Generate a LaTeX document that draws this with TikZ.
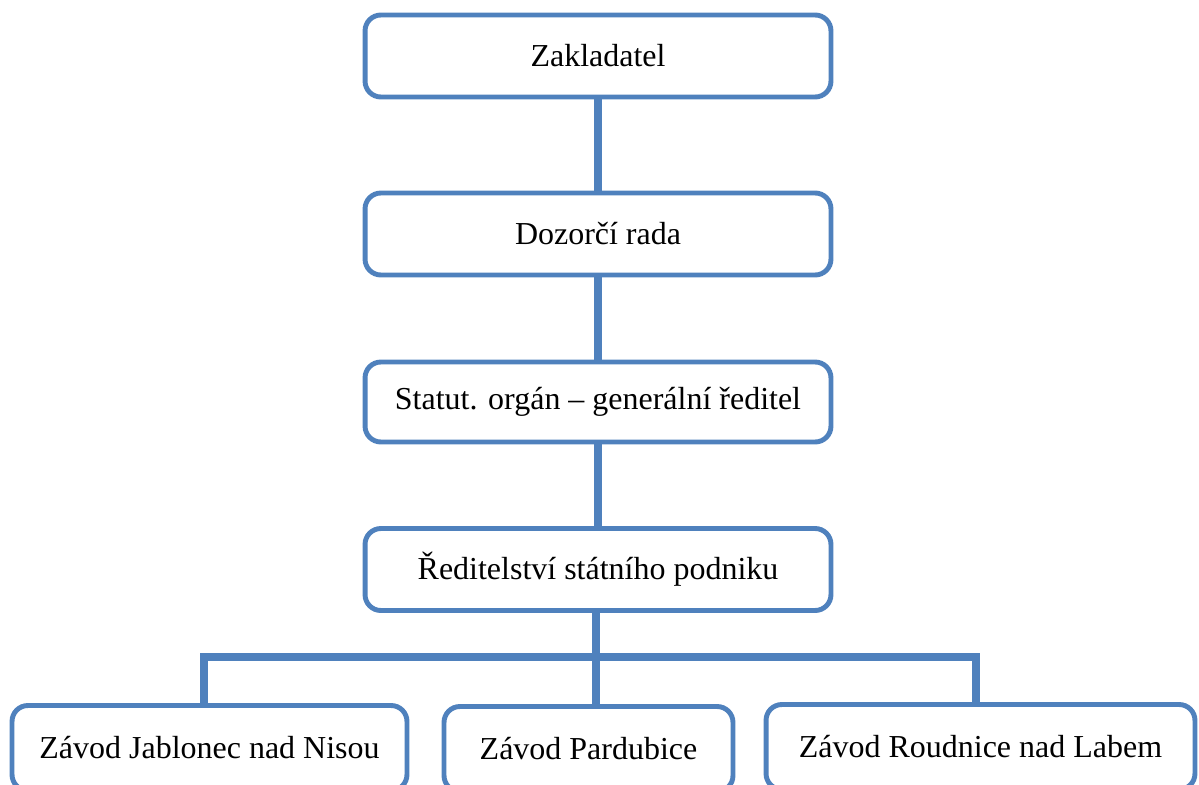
\documentclass[tikz,border=0pt]{standalone}
\usepackage{fontspec}
\setmainfont{Liberation Serif}
\usepackage{xcolor}
\usetikzlibrary{positioning}
\definecolor{orgblue}{RGB}{79,129,189}

\begin{document}
\begin{tikzpicture}[
  x=0.02cm, y=-0.02cm,
  unit/.style={draw=orgblue, line width=2.8pt, rounded corners=9pt, fill=white,
               minimum height=1.64cm, align=center,
               font=\fontsize{18.2}{22}\selectfont},
  mainunit/.style={unit, minimum width=9.32cm},
  conn/.style={orgblue, line width=4.6pt}
]
\useasboundingbox (0,0) rectangle (1199,784);
\clip (0,0) rectangle (1199,784);

% main chain
\node[mainunit] (zak) at (598,56)    {Zakladatel};
\node[mainunit] (doz) at (598,234)   {Dozorčí rada};
\node[mainunit, minimum height=1.6cm] (stat) at (598,402) {Statut. orgán -- generální ředitel};
\node[mainunit] (red) at (598,569.5) {Ředitelství státního podniku};

% plants
\node[unit, minimum width=7.9cm, minimum height=1.7cm]  (jab) at (209.5,748) {Závod Jablonec nad Nisou};
\node[unit, minimum width=5.78cm, minimum height=1.7cm] (par) at (588.5,749) {Závod Pardubice};
\node[unit, minimum width=8.58cm, minimum height=1.7cm] (rou) at (980.5,747) {Závod Roudnice nad Labem};

\coordinate (bus) at (596,657);

\draw[conn] (zak) -- (doz);
\draw[conn] (doz) -- (stat);
\draw[conn] (stat) -- (red);
\draw[conn] (red.south -| bus) -- (bus |- par.north);
\draw[conn] (jab.north -| 204,0) |- (bus) -| (rou.north -| 976,0);
\end{tikzpicture}
\end{document}
